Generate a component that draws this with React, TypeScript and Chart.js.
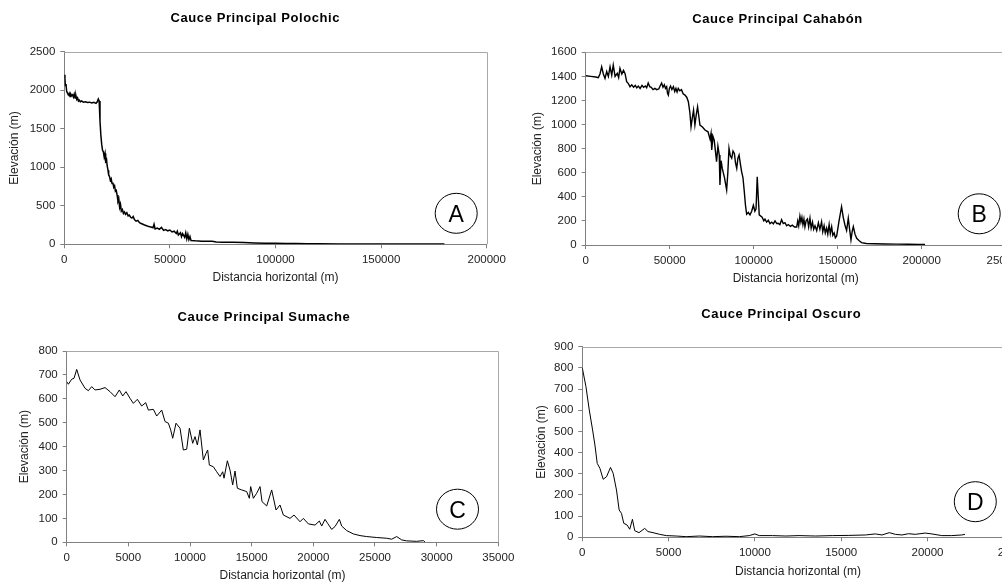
import React, { useEffect, useRef } from 'react';
import { Chart, registerables } from 'chart.js';

Chart.register(...registerables);
Chart.defaults.font.family = '"Liberation Sans", Arial, sans-serif';

// ---------- DATA: [distance (m), elevation (m)] ----------
const polochic: [number, number][] = [
  [0, 2200], [300, 2150], [500, 2060], [800, 2080], [1100, 1990], [1500, 1960], [1900, 1940],
  [2300, 1960], [2700, 1920], [3100, 1950], [3500, 1930], [3900, 1940], [4300, 1910], [4700, 1950],
  [5100, 1900], [5500, 1930], [5900, 1880], [6300, 1900], [6700, 1860], [7100, 1870], [7600, 1850],
  [8200, 1860], [9000, 1845], [10000, 1850], [11000, 1840], [12000, 1845], [13000, 1835], [14000, 1842],
  [15000, 1830], [15600, 1850], [16100, 1885], [16500, 1860], [16900, 1600], [17300, 1420], [17700, 1300],
  [18100, 1220], [18500, 1200], [18900, 1130], [19300, 1180], [19600, 1080], [20000, 1100], [20300, 1020],
  [20700, 960], [21000, 900], [21400, 880], [21800, 830], [22200, 850], [22600, 790], [23000, 800],
  [23400, 740], [23800, 760], [24200, 690], [24600, 700], [25000, 640], [25400, 560], [25800, 590],
  [26200, 480], [26600, 520], [27000, 430], [27500, 450], [28000, 400], [28500, 420], [29000, 390],
  [29600, 410], [30200, 370], [30800, 380], [31400, 350], [32000, 340], [32600, 360], [33200, 320],
  [34000, 300], [34800, 310], [35600, 280], [36400, 270], [37200, 260], [38000, 250], [39000, 240],
  [40000, 230], [41000, 225], [42000, 215], [42500, 260], [43000, 200], [44000, 210], [45000, 195],
  [46000, 220], [47000, 180], [48000, 190], [49000, 175], [50000, 185], [51000, 160], [52000, 170],
  [53000, 140], [53500, 170], [54000, 120], [55000, 150], [55500, 100], [56000, 140], [57000, 90],
  [57500, 150], [58000, 70], [58500, 130], [59000, 60], [59500, 100], [60000, 50], [62000, 45],
  [65000, 40], [70000, 38], [72000, 30], [75000, 28], [80000, 25], [85000, 22], [90000, 18],
  [95000, 15], [100000, 14], [105000, 12], [110000, 10], [115000, 8], [120000, 6], [130000, 5],
  [140000, 5], [150000, 5], [160000, 4], [170000, 4], [180000, 3],
];

const cahabon: [number, number][] = [
  [0, 1405], [3000, 1400], [6000, 1395], [7500, 1389], [8500, 1420], [9500, 1480], [10500, 1420],
  [11500, 1384], [12500, 1440], [13500, 1400], [14500, 1480], [15500, 1410], [16400, 1494], [17500, 1400],
  [18800, 1425], [19600, 1390], [20400, 1467], [21500, 1420], [22500, 1450], [23400, 1425], [24400, 1356],
  [25400, 1340], [26400, 1314], [27400, 1330], [28500, 1310], [29500, 1325], [30400, 1305], [31300, 1320],
  [32400, 1300], [33500, 1325], [34500, 1310], [35500, 1320], [36300, 1305], [37200, 1345], [38100, 1315],
  [39000, 1310], [40100, 1290], [41200, 1300], [42300, 1290], [43500, 1295], [44300, 1320], [45200, 1345],
  [46000, 1310], [46800, 1330], [47500, 1300], [48200, 1314], [48700, 1260], [49200, 1245], [49800, 1300],
  [50500, 1320], [51300, 1290], [52200, 1314], [53000, 1275], [53700, 1300], [54400, 1270], [55100, 1300],
  [56000, 1280], [57000, 1290], [58000, 1255], [59100, 1245], [60200, 1225], [61100, 1190],
  [62000, 1100], [62700, 982], [63500, 1060], [64200, 1120], [65000, 996], [65800, 1080], [66600, 1148],
  [68000, 996], [69500, 980], [71000, 955], [72800, 940], [74000, 880], [74600, 927], [75000, 790],
  [75800, 900], [76500, 870], [77900, 692], [78700, 820], [79500, 747], [79900, 498], [80600, 700],
  [81300, 636], [82600, 560], [83900, 457], [84600, 600], [85300, 803], [86100, 740], [86900, 720],
  [87700, 780], [88500, 760], [89200, 680], [89900, 636], [90600, 720], [91300, 747], [92000, 680],
  [92800, 610], [93600, 560], [94400, 443], [95100, 330], [95800, 255], [96800, 270], [97800, 250],
  [98800, 280], [99800, 330], [100700, 280], [101400, 300], [102100, 567], [102700, 400], [103300, 250],
  [105000, 230], [106000, 200], [106700, 215], [107700, 190], [108700, 205], [109700, 178], [110700, 190],
  [111700, 175], [112700, 200], [113700, 178], [114600, 180], [115600, 170], [116600, 210], [117600, 178],
  [118600, 185], [119600, 160], [120600, 170], [121800, 155], [123000, 165], [124300, 150], [125600, 150],
  [126200, 200], [126800, 160], [127500, 240], [128100, 190], [128700, 230], [129300, 170], [129900, 215],
  [130500, 150], [131200, 200], [132000, 215], [132700, 150], [133500, 222], [134200, 140], [135000, 190],
  [135700, 130], [136500, 160], [137500, 120], [138500, 185], [139400, 130], [140400, 194], [141100, 110],
  [141900, 160], [142600, 100], [143400, 140], [144100, 90], [144900, 170], [145600, 95], [146400, 152],
  [147100, 80], [147900, 100], [148600, 60], [149400, 75], [150800, 200], [152300, 318], [153300, 230],
  [154300, 166], [155300, 120], [156300, 222], [157100, 130], [157900, 42], [158600, 110], [159300, 152],
  [160300, 90], [161300, 55], [162800, 35], [164200, 20], [167000, 12], [172000, 10], [178000, 8],
  [185000, 7], [192000, 6], [198000, 5], [202000, 5],
];

const sumache: [number, number][] = [
  [0, 672], [135, 661], [405, 682], [595, 686], [811, 723], [1081, 679], [1487, 644], [1757, 634],
  [2027, 651], [2298, 637], [2703, 640], [3108, 647], [3514, 630], [3919, 609], [4270, 637], [4541, 612],
  [4811, 630], [5136, 602], [5406, 581], [5730, 598], [6082, 570], [6406, 584], [6622, 553], [7028, 556],
  [7298, 528], [7703, 553], [7974, 505], [8244, 498], [8433, 470], [8595, 435], [8866, 498], [9190, 477],
  [9460, 386], [9730, 389], [9947, 477], [10217, 414], [10406, 442], [10596, 407], [10812, 470], [11082, 344],
  [11298, 372], [11433, 386], [11568, 323], [11893, 316], [12163, 295], [12434, 275], [12650, 295], [12758, 268],
  [13028, 341], [13244, 302], [13460, 240], [13650, 298], [13839, 226], [14190, 219], [14596, 212], [14812, 184],
  [14920, 233], [15136, 184], [15407, 205], [15677, 233], [15839, 170], [16218, 152], [16623, 219], [16975, 135],
  [17299, 156], [17570, 114], [18110, 100], [18434, 114], [18921, 86], [19191, 100], [19597, 77], [20137, 72],
  [20489, 89], [20678, 68], [20948, 96], [21164, 79], [21489, 54], [21759, 66], [22111, 96], [22300, 68],
  [22705, 49], [23245, 35], [23786, 28], [24327, 24], [25138, 20], [25949, 17], [26354, 13], [26760, 24],
  [27165, 10], [27571, 6], [28382, 4], [28922, 7], [29058, 1],
];

const oscuro: [number, number][] = [
  [0, 800], [212, 711], [404, 601], [596, 507], [731, 436], [865, 349], [1019, 326], [1211, 274],
  [1404, 286], [1635, 330], [1788, 302], [1981, 223], [2135, 129], [2269, 113], [2404, 66], [2596, 58],
  [2750, 38], [2904, 85], [3038, 31], [3288, 22], [3615, 42], [3808, 27], [4096, 22], [4481, 14],
  [4865, 8], [5442, 6], [6019, 3], [6788, 6], [7558, 3], [8327, 5], [9096, 3], [9673, 8], [10000, 16],
  [10250, 8], [11019, 8], [11788, 6], [12558, 8], [13519, 6], [14481, 8], [15442, 9], [16404, 11],
  [16981, 16], [17365, 11], [17788, 22], [18135, 14], [18519, 11], [18904, 17], [19288, 14], [19865, 20],
  [20250, 16], [20827, 8], [21404, 8], [21981, 11], [22173, 14],
];

// axis ranges [min, max, step]
const xRangeA = [0, 200000, 50000];
const yRangeA = [0, 2500, 500];
const xRangeB = [0, 250000, 50000];
const yRangeB = [0, 1600, 200];
const xRangeC = [0, 35000, 5000];
const yRangeC = [0, 800, 100];
const xRangeD = [0, 25000, 5000];
const yRangeD = [0, 900, 100];

const titles = ['Cauce Principal Polochic', 'Cauce Principal Cahabón', 'Cauce Principal Sumache', 'Cauce Principal Oscuro'];
const letters = ['A', 'B', 'C', 'D'];
const xTitle = 'Distancia horizontal (m)';
const yTitle = 'Elevación (m)';

const FONT = '"Liberation Sans", Arial, sans-serif';

const decorPlugin = {
  id: 'decor',
  beforeDatasetsDraw(chart: any) {
    const { ctx, chartArea: a } = chart;
    ctx.save();
    ctx.strokeStyle = '#a8a8a8';
    ctx.lineWidth = 1;
    ctx.beginPath();
    const t = Math.round(a.top) + 0.5;
    const r = Math.round(a.right) + 0.5;
    ctx.moveTo(a.left, t);
    ctx.lineTo(r, t);
    ctx.lineTo(r, a.bottom);
    ctx.stroke();
    ctx.restore();
  },
  afterDraw(chart: any, _a: any, opts: any) {
    const ctx = chart.ctx;
    ctx.save();
    ctx.fillStyle = '#000';
    ctx.font = `bold 13px ${FONT}`;
    (ctx as any).letterSpacing = '0.6px';
    ctx.textAlign = 'center';
    ctx.textBaseline = 'alphabetic';
    ctx.fillText(opts.title, opts.titleX, opts.titleY);
    (ctx as any).letterSpacing = '0px';
    ctx.beginPath();
    ctx.ellipse(opts.cx, opts.cy, 21, 20, 0, 0, Math.PI * 2);
    ctx.strokeStyle = '#000';
    ctx.lineWidth = 1;
    ctx.stroke();
    ctx.font = `23px ${FONT}`;
    ctx.fillText(opts.letter, opts.cx, opts.cy + 8.3);
    ctx.restore();
  },
};

type Spec = {
  data: [number, number][];
  xr: number[];
  yr: number[];
  left: number; top: number; w: number; h: number;
  L: number; T: number; R: number; B: number; // chart area (canvas coords)
  yTitleX: number; xTitleY: number;
  title: string; titleX: number; titleY: number;
  letter: string; cx: number; cy: number;
  lw: number;
};

const specs: Spec[] = [
  { data: polochic, xr: xRangeA, yr: yRangeA, left: 0, top: 0, w: 512, h: 290,
    L: 64.3, T: 51.7, R: 486.7, B: 244.3, yTitleX: 15, xTitleY: 278,
    title: titles[0], titleX: 255.3, titleY: 22, letter: letters[0], cx: 456.2, cy: 213.3, lw: 1.5 },
  { data: cahabon, xr: xRangeB, yr: yRangeB, left: 512, top: 0, w: 530, h: 290,
    L: 73.7, T: 52.3, R: 493.7, B: 245, yTitleX: 25.3, xTitleY: 279,
    title: titles[1], titleX: 265.5, titleY: 22.5, letter: letters[1], cx: 467.2, cy: 213.8, lw: 1.4 },
  { data: sumache, xr: xRangeC, yr: yRangeC, left: 0, top: 290, w: 530, h: 300,
    L: 66.7, T: 61, R: 498.3, B: 252.3, yTitleX: 25, xTitleY: 286,
    title: titles[2], titleX: 264, titleY: 30.5, letter: letters[2], cx: 457.5, cy: 219.2, lw: 1 },
  { data: oscuro, xr: xRangeD, yr: yRangeD, left: 512, top: 290, w: 530, h: 300,
    L: 70.3, T: 56.7, R: 501.8, B: 247.3, yTitleX: 29.7, xTitleY: 281.7,
    title: titles[3], titleX: 269.3, titleY: 27.5, letter: letters[3], cx: 463.3, cy: 211.7, lw: 1 },
];

function Panel({ s }: { s: Spec }) {
  const ref = useRef<HTMLCanvasElement | null>(null);
  useEffect(() => {
    if (!ref.current) return;
    const titleLH = 12 * 1.2;
    const yAxisW = s.L;
    const yPad = s.yTitleX - titleLH / 2;
    const xAxisH = s.xTitleY - s.B + titleLH / 2;
    const padBottom = s.h - s.B - xAxisH;
    const tickFont = { size: 11.5, family: FONT };
    const chart = new Chart(ref.current, {
      type: 'line',
      data: {
        datasets: [{
          data: s.data.map(([x, y]) => ({ x, y })),
          borderColor: '#000',
          borderWidth: s.lw,
          pointRadius: 0,
          tension: 0,
          fill: false,
        }],
      },
      options: {
        responsive: false,
        animation: false,
        events: [],
        layout: { padding: { left: 0, top: s.T, right: s.w - s.R, bottom: padBottom } },
        plugins: {
          legend: { display: false },
          tooltip: { enabled: false },
          title: { display: false },
          decor: { title: s.title, titleX: s.titleX, titleY: s.titleY, letter: s.letter, cx: s.cx, cy: s.cy },
        } as any,
        scales: {
          x: {
            type: 'linear',
            min: s.xr[0], max: s.xr[1],
            ticks: {
              stepSize: s.xr[2], autoSkip: false, maxRotation: 0, minRotation: 0,
              color: '#222', font: tickFont, padding: 4.5,
              callback: (v: any) => String(v),
            },
            grid: { drawOnChartArea: false, drawTicks: true, tickLength: 4, color: '#808080', lineWidth: 1 },
            border: { display: true, color: '#808080', width: 1 },
            title: { display: true, text: xTitle, color: '#222', font: { size: 12, family: FONT }, padding: { top: 0, bottom: 0 } },
            afterFit: (sc: any) => { sc.height = xAxisH; },
          },
          y: {
            type: 'linear',
            min: s.yr[0], max: s.yr[1],
            ticks: {
              stepSize: s.yr[2], autoSkip: false,
              color: '#222', font: tickFont, padding: 5,
              callback: (v: any) => String(v),
            },
            grid: { drawOnChartArea: false, drawTicks: true, tickLength: 4, color: '#808080', lineWidth: 1 },
            border: { display: true, color: '#808080', width: 1 },
            title: { display: true, text: yTitle, color: '#222', font: { size: 12, family: FONT }, padding: { top: yPad, bottom: 0 } },
            afterFit: (sc: any) => { sc.width = yAxisW; },
          },
        },
      } as any,
      plugins: [decorPlugin as any],
    });
    return () => chart.destroy();
  }, [s]);
  return (
    <canvas
      ref={ref}
      width={s.w}
      height={s.h}
      style={{ position: 'absolute', left: s.left, top: s.top, width: s.w, height: s.h }}
    />
  );
}

export default function App() {
  return (
    <div style={{ position: 'fixed', left: 0, top: 0, width: 1002, height: 583, overflow: 'hidden', background: '#fff' }}>
      {specs.map((s, i) => <Panel key={i} s={s} />)}
    </div>
  );
}
